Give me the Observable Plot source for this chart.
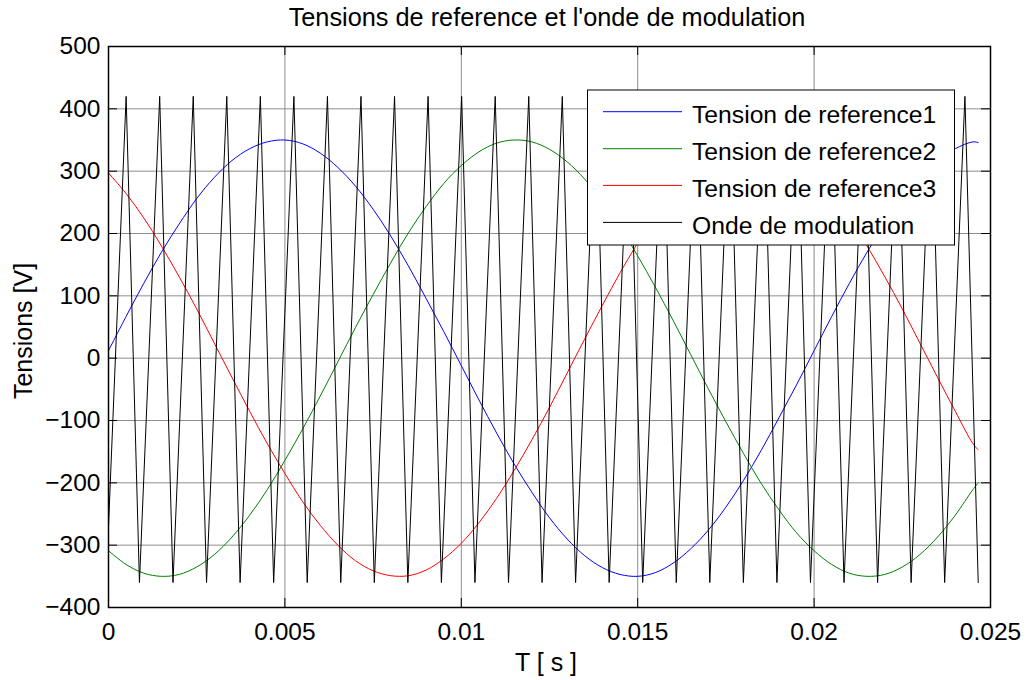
<!DOCTYPE html>
<html><head><meta charset="utf-8">
<script src="https://cdn.jsdelivr.net/npm/d3@7"></script>
<script src="https://cdn.jsdelivr.net/npm/@observablehq/plot@0.6"></script>
<style>
html,body{margin:0;padding:0;background:#fff;}
#chart svg{display:block;}
</style></head><body><div id="chart"></div>
<script>
// sample times (s)
const times = [0, 0.0005, 0.001, 0.0015, 0.002, 0.0025, 0.003, 0.0035, 0.004, 0.0045,
  0.005, 0.0055, 0.006, 0.0065, 0.007, 0.0075, 0.008, 0.0085, 0.009, 0.0095,
  0.01, 0.0105, 0.011, 0.0115, 0.012, 0.0125, 0.013, 0.0135, 0.014, 0.0145,
  0.015, 0.0155, 0.016, 0.0165, 0.017, 0.0175, 0.018, 0.0185, 0.019, 0.0195,
  0.02, 0.0205, 0.021, 0.0215, 0.022, 0.0225, 0.023, 0.0235, 0.024, 0.0245, 0.02465];
// Tension de reference1 (blue)
const ref1 = [12, 67, 120, 170, 215, 256, 290, 317, 336, 347,
  350, 344, 329, 306, 276, 239, 196, 148, 96, 43,
  -12, -67, -120, -170, -215, -256, -290, -317, -336, -347,
  -350, -344, -329, -306, -276, -239, -196, -148, -96, -43,
  12, 67, 120, 170, 215, 256, 290, 317, 336, 347, 346];
// Tension de reference2 (green)
const ref2 = [-309, -331, -345, -350, -347, -335, -315, -287, -252, -211,
  -164, -114, -61, -6, 49, 102, 153, 201, 243, 280,
  309, 331, 345, 350, 347, 335, 315, 287, 252, 211,
  164, 114, 61, 6, -49, -102, -153, -201, -243, -280,
  -309, -331, -345, -350, -347, -335, -315, -287, -252, -211, -200];
// Tension de reference3 (red)
const ref3 = [297, 264, 225, 180, 131, 79, 24, -31, -85, -137,
  -185, -230, -268, -300, -325, -341, -349, -349, -340, -322,
  -297, -264, -225, -180, -131, -79, -24, 31, 85, 137,
  185, 230, 268, 300, 325, 341, 349, 349, 340, 322,
  297, 264, 225, 180, 131, 79, 24, -31, -85, -137, -147];
// Onde de modulation (carrier) vertices
const carrierStart = -270;
const carrierPeak = 420;
const carrierTrough = -360;
const peakTimes = [0.000500, 0.001451, 0.002402, 0.003353, 0.004304, 0.005255, 0.006206, 0.007157,
  0.008108, 0.009059, 0.010010, 0.010961, 0.011912, 0.012863, 0.013814, 0.014765, 0.015716,
  0.016667, 0.017618, 0.018569, 0.019520, 0.020471, 0.021422, 0.022373, 0.023324, 0.024275];
const troughTimes = [0.000877, 0.001828, 0.002779, 0.003730, 0.004681, 0.005632, 0.006583, 0.007534,
  0.008485, 0.009436, 0.010387, 0.011338, 0.012289, 0.013240, 0.014191, 0.015142, 0.016093,
  0.017044, 0.017995, 0.018946, 0.019897, 0.020848, 0.021799, 0.022750, 0.023701, 0.024652];

const xTicks = [0, 0.005, 0.01, 0.015, 0.02, 0.025];
const xTickLabels = ["0", "0.005", "0.01", "0.015", "0.02", "0.025"];
const yTicks = [-400, -300, -200, -100, 0, 100, 200, 300, 400, 500];
const seriesNames = ["Tension de reference1", "Tension de reference2", "Tension de reference3", "Onde de modulation"];
const seriesColors = ["#0000ff", "#008000", "#ff0000", "#000000"];
const titleText = "Tensions de reference et l'onde de modulation";
const xLabel = "T [ s ]";
const yLabel = "Tensions [V]";

const toRows = arr => arr.map((v, i) => ({t: times[i], v}));
const carrier = [{t: 0, v: carrierStart}];
peakTimes.forEach((p, i) => {
  carrier.push({t: p, v: carrierPeak});
  carrier.push({t: troughTimes[i], v: carrierTrough});
});

const W = 1026, H = 680, mL = 108, mR = 36, mT = 46, mB = 73;
const FONT = '"Liberation Sans", Arial, Helvetica, sans-serif';
const plotH = H - mT - mB, plotW = W - mL - mR;
const tk = 9;
const gridStyle = {stroke: "#808080", strokeOpacity: 1, strokeWidth: 0.9};

const chart = Plot.plot({
  width: W, height: H,
  marginLeft: mL, marginRight: mR, marginTop: mT, marginBottom: mB,
  style: {fontFamily: FONT, fontSize: "24px", color: "#000", background: "#fff"},
  x: {domain: [0, 0.025]},
  y: {domain: [-400, 500]},
  marks: [
    Plot.gridX(xTicks, gridStyle),
    Plot.gridY(yTicks, gridStyle),
    Plot.line(toRows(ref1), {x: "t", y: "v", stroke: seriesColors[0], strokeWidth: 1, curve: "catmull-rom"}),
    Plot.line(toRows(ref2), {x: "t", y: "v", stroke: seriesColors[1], strokeWidth: 1, curve: "catmull-rom"}),
    Plot.line(toRows(ref3), {x: "t", y: "v", stroke: seriesColors[2], strokeWidth: 1, curve: "catmull-rom"}),
    Plot.line(carrier, {x: "t", y: "v", stroke: seriesColors[3], strokeWidth: 1}),
    Plot.tickX(xTicks, {x: d => d, insetTop: plotH - tk, stroke: "#000"}),
    Plot.tickX(xTicks, {x: d => d, insetBottom: plotH - tk, stroke: "#000"}),
    Plot.tickY(yTicks, {y: d => d, insetRight: plotW - tk, stroke: "#000"}),
    Plot.tickY(yTicks, {y: d => d, insetLeft: plotW - tk, stroke: "#000"}),
    Plot.axisX(xTicks, {tickSize: 0, tickPadding: 15, fontSize: 24.5, label: null,
      tickFormat: d => xTickLabels[xTicks.indexOf(d)]}),
    Plot.axisY(yTicks, {tickSize: 0, tickPadding: 8, fontSize: 24.5, label: null}),
    Plot.frame({stroke: "#000", strokeWidth: 1.5})
  ]
});
document.getElementById("chart").appendChild(chart);

const svg = d3.select(chart);
const txt = (x, y, s, size, anchor = "middle") => svg.append("text")
  .attr("x", x).attr("y", y).attr("text-anchor", anchor)
  .attr("fill", "#000").style("font-family", FONT).style("font-size", size + "px").text(s);
txt(547, 26, titleText, 25.3);
txt(546, 671, xLabel, 25);
svg.append("text").attr("transform", "translate(32,331) rotate(-90)")
  .attr("text-anchor", "middle").attr("fill", "#000")
  .style("font-family", FONT).style("font-size", "25px").text(yLabel);

// legend
const lg = svg.append("g");
lg.append("rect").attr("x", 587.5).attr("y", 90).attr("width", 367).attr("height", 155)
  .attr("fill", "#fff").attr("stroke", "#000").attr("stroke-width", 1);
const rowsY = [111.7, 148.7, 185.4, 222.4];
seriesNames.forEach((name, i) => {
  lg.append("line").attr("x1", 603).attr("x2", 682).attr("y1", rowsY[i]).attr("y2", rowsY[i])
    .attr("stroke", seriesColors[i]).attr("stroke-width", 1);
  lg.append("text").attr("x", 692).attr("y", rowsY[i] + 11.6).attr("text-anchor", "start")
    .attr("fill", "#000").style("font-family", FONT).style("font-size", "24.7px").text(name);
});
</script></body></html>
